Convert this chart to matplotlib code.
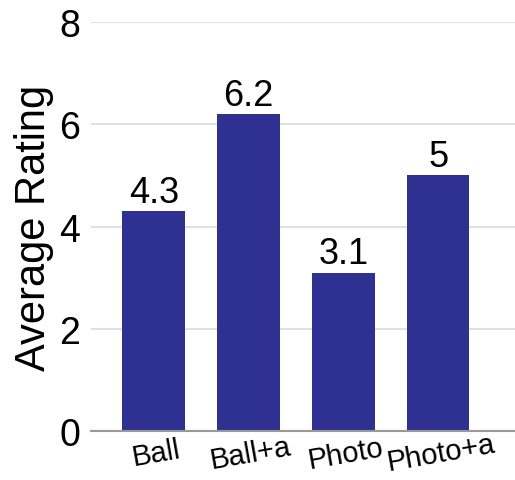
import matplotlib.pyplot as plt

plt.rcParams['font.family'] = ['Liberation Sans', 'DejaVu Sans']

conditions = ['Ball', 'Ball+a', 'Photo', 'Photo+a']
ratings = [4.3, 6.2, 3.1, 5]
value_labels = ['4.3', '6.2', '3.1', '5']

fig = plt.figure(figsize=(5.15, 4.81), dpi=100)
ax = fig.add_axes([0.177, 0.102, 0.823, 0.85])

x = range(len(conditions))
bars = ax.bar(x, ratings, width=0.66, color='#2e3192', zorder=3)
for b, lab in zip(bars, value_labels):
    ax.text(b.get_x() + b.get_width() / 2, b.get_height() + 0.03, lab,
            ha='center', va='bottom', fontsize=26)

ax.set_xlim(-0.66, 3.81)
ax.set_ylim(0, 8)
ax.set_yticks([0, 2, 4, 6, 8])
ax.set_xticks(list(x))
ax.set_xticklabels(conditions, rotation=10, fontsize=21, ha='center',
                   rotation_mode='anchor', va='top')
ax.tick_params(axis='y', labelsize=27, length=0, pad=8)
ax.tick_params(axis='x', length=0, pad=6)
ax.set_ylabel('Average Rating', fontsize=30, labelpad=4)

ax.grid(axis='y', color='#e0e0e0', linewidth=1.5, zorder=0)
for s in ['top', 'right', 'left']:
    ax.spines[s].set_visible(False)
ax.spines['bottom'].set_color('#999999')
ax.spines['bottom'].set_linewidth(1.5)
ax.spines['bottom'].set_zorder(4)

fig.savefig('out.png', dpi=100)
